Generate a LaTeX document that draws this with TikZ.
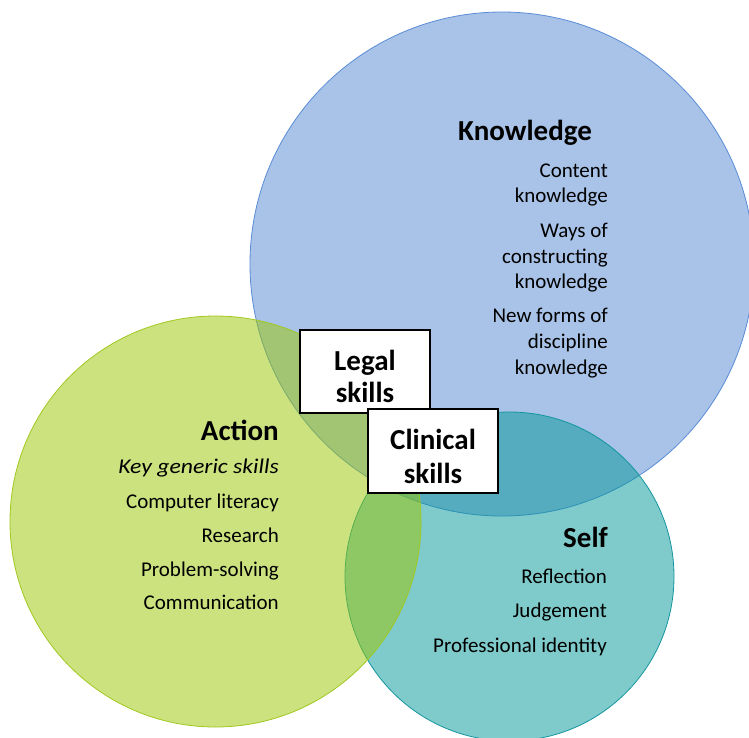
\documentclass[tikz,border=0pt]{standalone}
\usepackage{fontspec}
\setmainfont{Carlito}
\definecolor{kfill}{RGB}{83,137,209}
\definecolor{kline}{RGB}{90,140,215}
\definecolor{afill}{RGB}{155,199,0}
\definecolor{aline}{RGB}{160,200,30}
\definecolor{sfill}{RGB}{1,151,151}
\definecolor{sline}{RGB}{20,150,160}
\tikzset{
  circ/.style={fill opacity=0.5, line width=0.8pt},
  head/.style={anchor=base east, inner sep=0pt, font=\fontsize{29}{34}\selectfont\bfseries},
  body/.style={anchor=base east, inner sep=0pt, font=\fontsize{21}{25.5}\selectfont},
  boxtxt/.style={anchor=base, inner sep=0pt, font=\fontsize{29}{34}\selectfont\bfseries},
  skillbox/.style={draw=black, fill=white, line width=1.6pt, minimum width=130pt, inner sep=0pt}
}
\begin{document}
\begin{tikzpicture}[x=1pt,y=-1pt]
\useasboundingbox (0,0) rectangle (749,737);
\fill[white] (0,0) rectangle (749,737);
% circles
\draw[circ, fill=kfill, draw=kline] (502,264) circle (252);
\draw[circ, fill=sfill, draw=sline] (509.5,576.5) circle (164.5);
\draw[circ, fill=afill, draw=aline] (215.5,521.5) circle (205.5);
% Knowledge
\node[head] (kh) at (592,140) {Knowledge};
\node[body] (k1) at (608,177) {Content};
\node[body] (k2) at (608,202) {knowledge};
\node[body] (k3) at (608,237) {Ways of};
\node[body] (k4) at (608,263) {constructing};
\node[body] (k5) at (608,288) {knowledge};
\node[body] (k6) at (608,322) {New forms of};
\node[body] (k7) at (608,348) {discipline};
\node[body] (k8) at (608,374) {knowledge};
% Action
\node[head] (ah) at (279,440) {Action};
\node[body] (a1) at (279,473) {\itshape\addfontfeatures{FakeStretch=1.13}Key generic skills};
\node[body] (a2) at (279,508) {Computer literacy};
\node[body] (a3) at (279,542) {Research};
\node[body] (a4) at (279,576) {Problem-solving};
\node[body] (a5) at (279,609) {Communication};
% Self
\node[head] (sh) at (608,547) {Self};
\node[body] (s1) at (607,583) {Reflection};
\node[body] (s2) at (607,617) {Judgement};
\node[body] (s3) at (607,652) {Professional identity};
% boxes
\node[skillbox, minimum height=83pt] (legal) at (365,371.5) {};
\node[boxtxt] (legal1) at (365,370) {Legal};
\node[boxtxt] (legal2) at (365,402) {skills};
\node[skillbox, minimum height=84pt] (clin) at (433,451) {};
\node[boxtxt] (clin1) at (433,449) {Clinical};
\node[boxtxt] (clin2) at (433,483) {skills};
\end{tikzpicture}
\end{document}
